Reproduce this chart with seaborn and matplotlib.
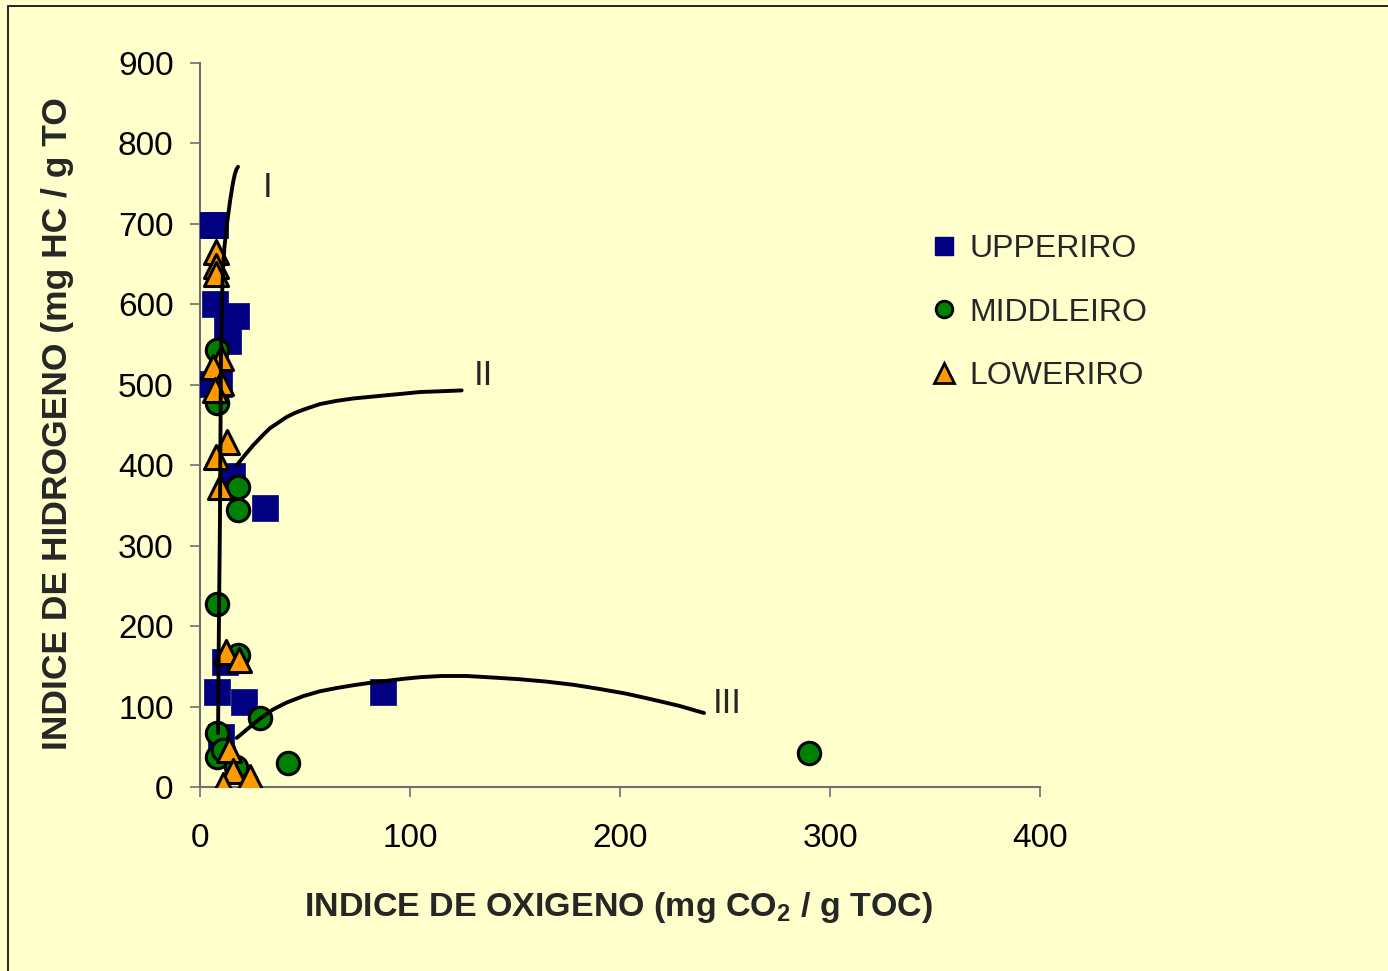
import matplotlib
matplotlib.use("Agg")
import matplotlib.pyplot as plt
from matplotlib.lines import Line2D
from matplotlib.patches import Rectangle
import seaborn as sns
import pandas as pd

# ---------------- data ----------------
upper_x = [5, 7, 7, 17, 13, 13.5, 3, 9, 15, 31, 12, 8, 21, 10, 87]
upper_y = [698, 698, 600, 586, 568, 554, 501, 501, 387, 347, 155, 118, 106, 62, 118]

middle_x = [8, 8, 18, 18, 8, 18, 28.5, 8, 8, 11, 17, 42, 290]
middle_y = [543, 477, 373, 344, 227, 164, 86, 67, 37, 46, 25, 30, 42]

lower_x = [7.5, 7.5, 7.5, 10, 6, 10, 7, 13, 7.5, 9.5, 12.5, 18.5, 14, 15.5, 24, 11]
lower_y = [665, 648, 638, 533, 522, 502, 493, 429, 410, 373, 168, 158, 46, 20, 13, 2]

curve_I_x = [8.6, 9.0, 9.5, 10.0, 10.5, 11.0, 11.6, 12.4, 13.3, 14.4, 15.7, 16.6, 17.4, 18.1]
curve_I_y = [67, 200, 332, 543, 610, 645, 670, 690, 709, 730, 751, 762, 768, 771]

curve_II_x = [17.5, 21.5, 25.4, 29.4, 33.3, 37.3, 41.3, 45.2, 49.2, 57.1, 65, 73, 81, 88.9, 97, 104.8, 115, 124.6]
curve_II_y = [400, 413, 425, 436, 446, 453, 460, 465, 469, 476, 480, 483, 485, 487, 489, 491, 492, 493]

curve_III_x = [17.5, 23, 28.6, 34.9, 41.3, 49.2, 57.1, 65, 73, 81, 88.9, 97, 104.8, 115, 127, 140, 152, 165, 178, 190, 203, 215, 228, 240]
curve_III_y = [61, 73, 85, 96.6, 105, 113, 119, 123, 126.5, 129.5, 132, 134.5, 136.5, 138, 138, 136, 134, 131, 127, 122, 116, 109, 101, 92]

curve_labels = ["I", "II", "III"]
curve_label_x = [32, 135, 251]
curve_label_y = [745, 512, 104]

series_names = ["UPPERIRO", "MIDDLEIRO", "LOWERIRO"]
x_ticks = [0, 100, 200, 300, 400]
y_ticks = [0, 100, 200, 300, 400, 500, 600, 700, 800, 900]

# ---------------- style ----------------
sns.set_style("ticks")
plt.rcParams["font.family"] = ["Liberation Sans", "DejaVu Sans"]
plt.rcParams["mathtext.default"] = "regular"

BG = "#FFFFCC"
SPINE = "#707070"

fig = plt.figure(figsize=(13.88, 9.71), dpi=100, facecolor=BG)
ax = fig.add_axes([200 / 1388, 1 - 787 / 971, 840 / 1388, 724 / 971])
ax.set_facecolor(BG)

df_u = pd.DataFrame({"x": upper_x, "y": upper_y})
df_m = pd.DataFrame({"x": middle_x, "y": middle_y})
df_l = pd.DataFrame({"x": lower_x, "y": lower_y})

sns.scatterplot(data=df_u, x="x", y="y", ax=ax, marker="s", s=340,
                color="#000080", edgecolor="#000080", linewidth=0.5, zorder=3)
sns.scatterplot(data=df_m, x="x", y="y", ax=ax, marker="o", s=260,
                color="#008000", edgecolor="black", linewidth=2.2, zorder=4)
sns.scatterplot(data=df_l, x="x", y="y", ax=ax, marker="^", s=300,
                color="#FF9900", edgecolor="black", linewidth=2.2, zorder=5)

for cx, cy in [(curve_I_x, curve_I_y), (curve_II_x, curve_II_y), (curve_III_x, curve_III_y)]:
    dfc = pd.DataFrame({"x": cx, "y": cy})
    sns.lineplot(data=dfc, x="x", y="y", ax=ax, sort=False, estimator=None,
                 color="black", linewidth=2.8, zorder=6)
for ln in ax.lines:
    ln.set_solid_joinstyle("round")
    ln.set_solid_capstyle("round")

for t, tx, ty in zip(curve_labels, curve_label_x, curve_label_y):
    ax.text(tx, ty, t, fontsize=25, ha="center", va="center", zorder=7)

ax.set_xlim(0, 400)
ax.set_ylim(0, 900)
ax.set_xticks(x_ticks)
ax.set_yticks(y_ticks)
ax.tick_params(axis="both", direction="out", length=7, width=1.2, color=SPINE,
               labelsize=24, labelcolor="black")
ax.tick_params(axis="x", pad=19)
ax.tick_params(axis="y", pad=12)

for side in ["top", "right"]:
    ax.spines[side].set_visible(False)
for side in ["left", "bottom"]:
    ax.spines[side].set_color(SPINE)
    ax.spines[side].set_linewidth(1.5)

ax.set_xlabel("")
ax.set_ylabel("")

fig.text(618 / 1388, 1 - 907 / 971, r"INDICE DE OXIGENO (mg CO$_2$ / g TOC)",
         fontweight="bold", fontsize=24.5, ha="center", va="center")
fig.text(58 / 1388, 1 - 424 / 971, "INDICE DE HIDROGENO (mg HC / g TO",
         fontweight="bold", fontsize=25.5, rotation=90, ha="center", va="center")

handles = [
    Line2D([], [], linestyle="none", marker="s", markersize=13.5,
           markerfacecolor="#000080", markeredgecolor="#000080"),
    Line2D([], [], linestyle="none", marker="o", markersize=12,
           markerfacecolor="#008000", markeredgecolor="black", markeredgewidth=2),
    Line2D([], [], linestyle="none", marker="^", markersize=14,
           markerfacecolor="#FF9900", markeredgecolor="black", markeredgewidth=2),
]
leg = fig.legend(handles, series_names, loc="upper left",
                 bbox_to_anchor=(928 / 1388, 1 - 234 / 971), frameon=False,
                 fontsize=23, handletextpad=0.3, labelspacing=1.05,
                 handlelength=1.0, borderpad=0, borderaxespad=0)

fig.patches.append(Rectangle((8 / 1388, -0.2), 1.5, 1.2 - 6 / 971,
                             transform=fig.transFigure, fill=False,
                             edgecolor="black", linewidth=1.2))

fig.savefig("out.png", dpi=100, facecolor=BG)
